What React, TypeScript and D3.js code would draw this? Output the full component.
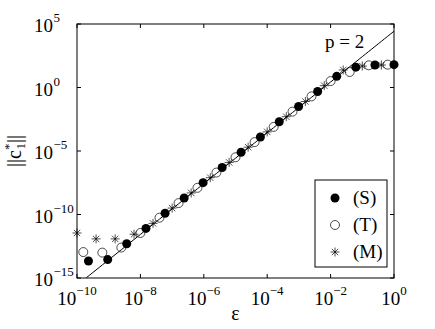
import * as d3 from 'd3';

// epsilon grids and ||c*_1|| values for the three schemes
const sEps = [2.3e-10, 9.3e-10, 3.7e-9, 1.5e-8, 6e-8, 2.4e-7, 9.5e-7, 3.8e-6, 1.5e-5, 6.1e-5, 2.4e-4, 9.8e-4, 3.9e-3, 1.56e-2, 6.25e-2, 0.25, 1];
const sVal = [2.2e-14, 2.8e-14, 5e-13, 8e-12, 1.26e-10, 2e-9, 3.2e-8, 5e-7, 7.9e-6, 1.26e-4, 2e-3, 3.2e-2, 0.48, 7.6, 40, 59, 63];

const tEps = [1.58e-10, 6.3e-10, 2.5e-9, 1e-8, 4e-8, 1.6e-7, 6.3e-7, 2.5e-6, 1e-5, 4e-5, 1.6e-4, 6.3e-4, 2.5e-3, 1e-2, 4e-2, 0.16, 0.63];
const tVal = [1.1e-13, 1e-13, 2.5e-13, 3.5e-12, 5.6e-11, 7.9e-10, 1.26e-8, 2e-7, 3.2e-6, 5e-5, 7.9e-4, 1.26e-2, 0.2, 3.2, 16.6, 56, 63];

const mEps = [1e-10, 4e-10, 1.6e-9, 6.3e-9, 2.5e-8, 1e-7, 4e-7, 1.6e-6, 6.3e-6, 2.5e-5, 1e-4, 4e-4, 1.6e-3, 6.3e-3, 2.5e-2, 0.1, 0.4];
const mVal = [3.5e-12, 1.2e-12, 1.2e-12, 2.8e-12, 2e-11, 3.2e-10, 5e-9, 7.9e-8, 1.26e-6, 2e-5, 3.2e-4, 5e-3, 7.9e-2, 1.4, 24, 49, 59];

// reference slope line  y = coef * eps^p
const slopeCoef = 2.7e4;
const slopeP = 2;

const xTicks = [1e-10, 1e-8, 1e-6, 1e-4, 1e-2, 1];
const yTicks = [1e-15, 1e-10, 1e-5, 1, 1e5];
const legendLabels = ['(S)', '(T)', '(M)'];

const W = 435, H = 329;
const left = 77, right = 394, top = 24, bottom = 278;
const FONT = "'Liberation Serif', 'Times New Roman', Times, serif";
const R = 4.5;

const x = d3.scaleLog().domain([1e-10, 1]).range([left, right]);
const y = d3.scaleLog().domain([1e-15, 1e5]).range([bottom, top]);

const expOf = (v: number) => {
  const e = Math.round(Math.log10(v));
  return e < 0 ? '\u2212' + Math.abs(e) : String(e);
};

const star = (r: number) => {
  const d = r * 0.707;
  return `M${-r},0H${r}M0,${-r}V${r}M${-d},${-d}L${d},${d}M${-d},${d}L${d},${-d}`;
};

const Filled = ({ cx, cy }: { cx: number; cy: number }) => <circle cx={cx} cy={cy} r={R} fill="#000" />;
const Open = ({ cx, cy }: { cx: number; cy: number }) => (
  <circle cx={cx} cy={cy} r={R} fill="none" stroke="#000" strokeWidth={0.7} />
);
const Star = ({ cx, cy }: { cx: number; cy: number }) => (
  <path transform={`translate(${cx},${cy})`} d={star(R)} fill="none" stroke="#000" strokeWidth={0.7} />
);

export default function App() {
  const lineEps = d3.range(0, 101).map((i) => Math.pow(10, -10 + i * 0.1));
  const slopeLine = d3
    .line<number>()
    .x((e) => x(e))
    .y((e) => y(slopeCoef * Math.pow(e, slopeP)))(lineEps);

  const tick = 4;
  const legendMarks = [Filled, Open, Star];
  const txt = { fontFamily: FONT };

  return (
    <svg width={W} height={H} style={{ position: 'absolute', left: 0, top: 0, background: '#fff' }}>
      <defs>
        <clipPath id="plot">
          <rect x={left} y={top} width={right - left} height={bottom - top} />
        </clipPath>
      </defs>
      <rect x={0} y={0} width={W} height={H} fill="#fff" />

      {/* frame + ticks */}
      <rect x={left} y={top} width={right - left} height={bottom - top} fill="none" stroke="#000" strokeWidth={1} />
      {xTicks.map((t) => (
        <g key={'xt' + t}>
          <line x1={x(t)} x2={x(t)} y1={bottom} y2={bottom - tick} stroke="#000" />
          <line x1={x(t)} x2={x(t)} y1={top} y2={top + tick} stroke="#000" />
          <text x={x(t)} y={305} textAnchor="middle" fontSize={19} style={txt}>
            10<tspan fontSize={13} dy={-10}>{expOf(t)}</tspan>
          </text>
        </g>
      ))}
      {yTicks.map((t) => (
        <g key={'yt' + t}>
          <line x1={left} x2={left + tick} y1={y(t)} y2={y(t)} stroke="#000" />
          <line x1={right} x2={right - tick} y1={y(t)} y2={y(t)} stroke="#000" />
          <text x={53} y={y(t) + 8} textAnchor="end" fontSize={19} style={txt}>10</text>
          <text x={53.5} y={y(t) - 2} fontSize={13} style={txt}>{expOf(t)}</text>
        </g>
      ))}

      {/* slope line */}
      <path d={slopeLine ?? ''} fill="none" stroke="#000" strokeWidth={1} clipPath="url(#plot)" />
      <text x={325} y={48} fontSize={19} style={txt}>p = 2</text>

      {/* data */}
      {mEps.map((e, i) => <Star key={'m' + i} cx={x(e)} cy={y(mVal[i])} />)}
      {tEps.map((e, i) => <Open key={'t' + i} cx={x(e)} cy={y(tVal[i])} />)}
      {sEps.map((e, i) => <Filled key={'s' + i} cx={x(e)} cy={y(sVal[i])} />)}

      {/* axis titles */}
      <text x={(left + right) / 2} y={320} textAnchor="middle" fontSize={20} style={txt}>ε</text>
      <text transform={`translate(21,${(top + bottom) / 2}) rotate(-90)`} textAnchor="middle" fontSize={20} style={txt}>
        ||c<tspan fontSize={13} dy={-8}>*</tspan>
        <tspan fontSize={13} dy={12} dx={-6}>1</tspan>
        <tspan dy={-4}>||</tspan>
      </text>

      {/* legend */}
      <rect x={315} y={180} width={72} height={87} fill="#fff" stroke="#000" strokeWidth={1} />
      {legendLabels.map((lab, i) => {
        const M = legendMarks[i];
        const cy = 198 + i * 27;
        return (
          <g key={lab}>
            <M cx={335} cy={cy} />
            <text x={353} y={cy + 6} fontSize={19} style={txt}>{lab}</text>
          </g>
        );
      })}
    </svg>
  );
}
